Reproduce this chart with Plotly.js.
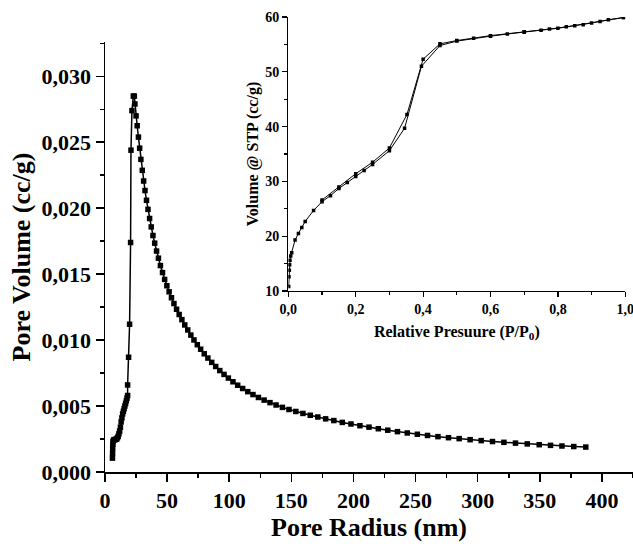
<!DOCTYPE html>
<html><head><meta charset="utf-8">
<script src="https://cdn.plot.ly/plotly-3.0.1.min.js"></script>
<style>html,body{margin:0;padding:0;background:#fff}#chart{width:633px;height:550px}</style>
</head><body><div id="chart"></div>
<script>
// Main chart: pore size distribution
const poreRadius = [6.0, 6.1, 6.2, 6.3, 6.5, 6.8, 7.3, 8.0, 8.7, 9.4, 10.0, 10.6, 11.2, 11.8, 12.4, 13.0, 13.6, 14.2, 14.8, 15.4, 16.0, 16.6, 17.2, 17.7, 18.2, 18.2, 19.0, 19.8, 20.6, 20.9, 21.7, 22.8, 23.6,
  24.1, 25.0, 25.9, 26.9, 27.9, 28.9, 30.0, 31.1, 32.2, 33.4, 34.6, 35.9, 37.2, 38.6, 40.0, 41.5, 43.0, 44.6, 46.3, 48.0, 49.8, 51.6, 53.5, 55.5, 57.6, 59.7, 61.9, 64.2, 66.6, 69.1, 71.6, 74.3, 77.0, 79.9, 82.8, 85.9, 89.1, 92.4, 95.8, 99.3, 103.0, 106.8, 110.8, 114.9, 119.1, 123.5, 128.1, 132.8, 137.7, 142.8, 148.1, 153.6, 159.3, 165.2, 171.3, 177.6, 184.2, 191.0, 198.0, 205.2, 212.5, 220.0, 227.6, 235.4, 243.3, 251.4, 259.6, 268.0, 276.5, 285.1, 293.9, 302.8, 311.9, 321.1, 330.4, 339.9, 349.5, 358.6, 367.8, 377.3, 387.0];
const poreVolume = [0.00105, 0.0014, 0.0018, 0.0021, 0.0023, 0.0024, 0.00245, 0.00245, 0.00248, 0.0025, 0.0026, 0.0027, 0.0029, 0.0031, 0.0034, 0.0038, 0.0041, 0.0044, 0.0046, 0.0048, 0.0050, 0.0052, 0.0054, 0.0056, 0.0058, 0.0066, 0.0087, 0.0112, 0.0174, 0.0244, 0.0274, 0.0285, 0.0285,
  0.0279, 0.0270, 0.02625, 0.02539, 0.02455, 0.02370, 0.02287, 0.02206, 0.02134, 0.02060, 0.01991, 0.01922, 0.01858, 0.01793, 0.01735, 0.01675, 0.01621, 0.01565, 0.01512, 0.01460, 0.01412, 0.01366, 0.01321, 0.01277, 0.01234, 0.01194, 0.01155, 0.01115, 0.01077, 0.01038, 0.01001, 0.00965, 0.00931, 0.00896, 0.00864, 0.00831, 0.00800, 0.00769, 0.00740, 0.00712, 0.00684, 0.00658, 0.00633, 0.00609, 0.00587, 0.00565, 0.00545, 0.00526, 0.00508, 0.00490, 0.00474, 0.00459, 0.00444, 0.00430, 0.00417, 0.00403, 0.00390, 0.00376, 0.00364, 0.00351, 0.00340, 0.00328, 0.00317, 0.00306, 0.00296, 0.00286, 0.00277, 0.00268, 0.00260, 0.00253, 0.00245, 0.00238, 0.00231, 0.00225, 0.00219, 0.00213, 0.00207, 0.00202, 0.00197, 0.00193, 0.00189];

// Inset: isotherm
const adsPressure = [0.001, 0.002, 0.003, 0.004, 0.005, 0.007, 0.01, 0.02, 0.03, 0.04, 0.05, 0.075, 0.1, 0.125, 0.15, 0.175, 0.2, 0.225, 0.25, 0.3, 0.345, 0.395, 0.45, 0.5, 0.55, 0.6, 0.65, 0.7, 0.75, 0.8, 0.85, 0.9, 0.95, 0.995];
const adsVolume = [10.8, 12.6, 13.8, 14.8, 15.6, 16.4, 17.0, 19.3, 20.5, 21.6, 22.7, 24.7, 26.3, 27.4, 28.7, 29.8, 30.9, 32.0, 33.1, 35.6, 39.7, 51.0, 54.8, 55.6, 56.1, 56.5, 56.9, 57.2, 57.6, 57.95, 58.4, 58.9, 59.5, 59.9];
const desPressure = [0.995, 0.925, 0.875, 0.825, 0.775, 0.7, 0.6, 0.5, 0.45, 0.4, 0.352, 0.3, 0.25, 0.2, 0.15, 0.1];
const desVolume = [59.9, 59.2, 58.6, 58.2, 57.8, 57.3, 56.6, 55.7, 55.1, 52.3, 42.2, 36.1, 33.5, 31.4, 29.0, 26.6];

const FONT = 'Liberation Serif, Times New Roman, serif';
const black = '#000';

const traces = [
  {x: poreRadius, y: poreVolume, type: 'scatter', mode: 'lines+markers', xaxis: 'x', yaxis: 'y',
   line: {color: black, width: 1.5}, marker: {symbol: 'square', size: 5.5, color: black}},
  {x: adsPressure, y: adsVolume, type: 'scatter', mode: 'lines+markers', xaxis: 'x2', yaxis: 'y2',
   line: {color: black, width: 1}, marker: {symbol: 'square', size: 3.5, color: black}},
  {x: desPressure, y: desVolume, type: 'scatter', mode: 'lines+markers', xaxis: 'x2', yaxis: 'y2',
   line: {color: black, width: 1}, marker: {symbol: 'square', size: 3.5, color: black}}
];

function ax(extra) {
  return Object.assign({
    showline: true, linewidth: 1.5, linecolor: black, mirror: false,
    ticks: 'outside', tickwidth: 1.5, tickcolor: black,
    showgrid: false, zeroline: false, fixedrange: true, ticklabeloverflow: 'allow'
  }, extra);
}

const layout = {
  width: 633, height: 550,
  margin: {l: 105, r: 0, t: 17, b: 78, pad: 0},
  paper_bgcolor: '#fff', plot_bgcolor: 'rgba(0,0,0,0)',
  separators: ',.',
  showlegend: false,
  font: {family: FONT, color: black, weight: 'bold'},
  xaxis: ax({anchor: 'y', domain: [0, 1], range: [0, 425], tick0: 0, dtick: 50, ticklen: 8,
    minor: {ticks: 'outside', dtick: 25, ticklen: 4, tickwidth: 1.5, tickcolor: black},
    tickfont: {family: FONT, size: 22, weight: 'bold', color: black},
    title: {text: 'Pore Radius (nm)', font: {family: FONT, size: 26, weight: 'bold', color: black}, standoff: 6}}),
  yaxis: ax({anchor: 'x', domain: [0, 0.94505], range: [0, 0.0326], tick0: 0, dtick: 0.005, tickformat: '.3f', ticklen: 8,
    minor: {ticks: 'outside', dtick: 0.0025, ticklen: 4, tickwidth: 1.5, tickcolor: black},
    tickfont: {family: FONT, size: 22, weight: 'bold', color: black},
    title: {text: 'Pore Volume (cc/g)', font: {family: FONT, size: 26, weight: 'bold', color: black}, standoff: 3}}),
  xaxis2: ax({anchor: 'y2', domain: [0.3472, 0.9854], range: [0, 1], tick0: 0, dtick: 0.2, tickformat: '.1f', ticklen: 5, linewidth: 1.2, tickwidth: 1.2,
    minor: {ticks: 'outside', dtick: 0.1, ticklen: 3, tickwidth: 1.2, tickcolor: black},
    tickfont: {family: FONT, size: 14, weight: 'bold', color: black},
    title: {text: 'Relative Presuure (P/P<sub>0</sub>)', font: {family: FONT, size: 16, weight: 'bold', color: black}, standoff: 9}}),
  yaxis2: ax({anchor: 'x2', domain: [0.3978, 1], range: [10, 60], tick0: 10, dtick: 10, ticklen: 5, linewidth: 1.2, tickwidth: 1.2,
    minor: {ticks: 'outside', dtick: 5, ticklen: 3, tickwidth: 1.2, tickcolor: black},
    tickfont: {family: FONT, size: 14, weight: 'bold', color: black},
    title: {text: 'Volume @ STP (cc/g)', font: {family: FONT, size: 16, weight: 'bold', color: black}, standoff: 2}})
};

Plotly.newPlot('chart', traces, layout, {displayModeBar: false, staticPlot: true});
</script>
</body></html>
